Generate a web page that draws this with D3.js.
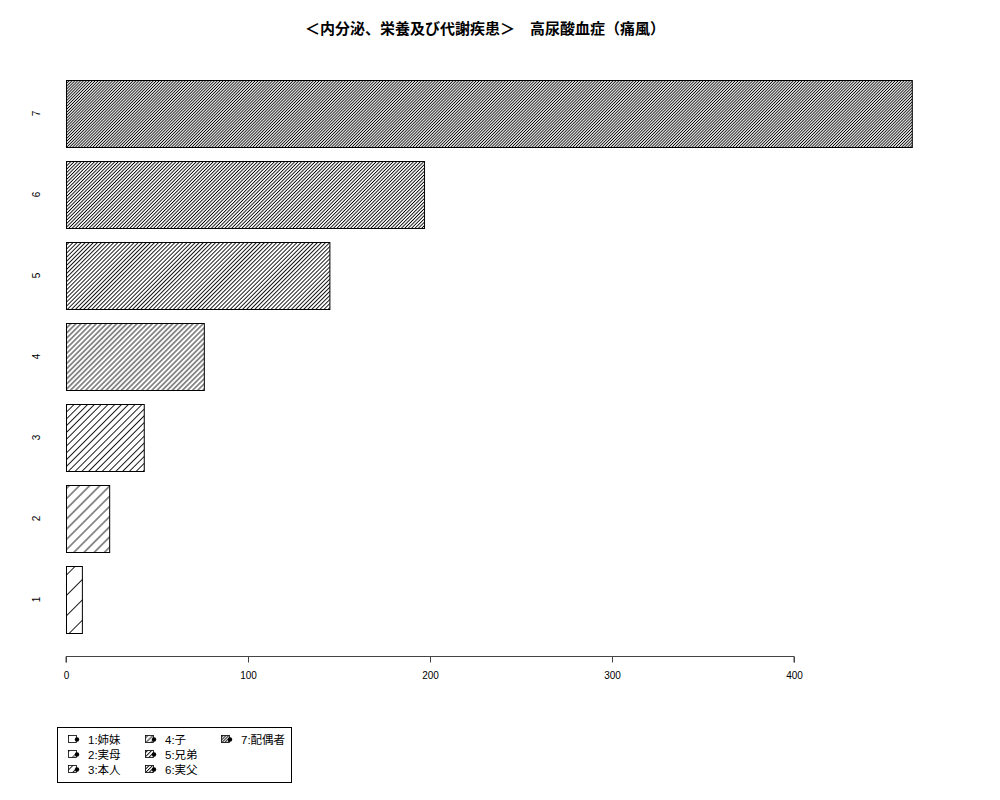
<!DOCTYPE html>
<html><head><meta charset="utf-8">
<script src="https://cdn.jsdelivr.net/npm/d3@7"></script>
<style>body{margin:0;background:#fff}svg{display:block}text{font-family:"Liberation Sans","Noto Sans CJK JP",sans-serif}</style>
</head><body>
<script>
const title = "＜内分泌、栄養及び代謝疾患＞　高尿酸血症（痛風）";
const categories = ["1","2","3","4","5","6","7"];
const values = [9, 24, 43, 76, 145, 197, 465];
const densities = [5, 10, 15, 20, 25, 30, 35];
const legendLabels = ["1:姉妹","2:実母","3:本人","4:子","5:兄弟","6:実父","7:配偶者"];
const xTicks = [0, 100, 200, 300, 400];

const W = 1000, H = 800;
const svg = d3.select("body").append("svg").attr("width", W).attr("height", H);
const defs = svg.append("defs");
densities.forEach((d, i) => {
  const sp = 72 / d;
  const p = defs.append("pattern").attr("id", "h" + i)
    .attr("patternUnits", "userSpaceOnUse").attr("width", sp).attr("height", 10)
    .attr("patternTransform", "rotate(45)");
  p.append("line").attr("x1", sp / 2).attr("x2", sp / 2).attr("y1", 0).attr("y2", 10)
    .attr("stroke", "#000").attr("stroke-width", 0.9);
});

const x = d3.scaleLinear().domain([0, 400]).range([66, 794]);
const y = d3.scaleBand().domain(categories.slice().reverse()).range([80, 633])
  .paddingInner(14 / 81).paddingOuter(0);

svg.append("text").attr("x", 485).attr("y", 34).attr("text-anchor", "middle")
  .attr("font-size", 15).attr("font-weight", "bold")
  .attr("font-family", "'Noto Sans CJK JP',sans-serif").text(title);

const bars = svg.append("g");
categories.forEach((c, i) => {
  const yy = Math.round(y(c)) + 0.5, bw = y.bandwidth();
  const x0 = Math.round(x(0)) + 0.5, x1 = x(values[i]);
  bars.append("rect").attr("x", x0).attr("y", yy).attr("width", x1 - x0).attr("height", bw)
    .attr("fill", "#fff");
  bars.append("rect").attr("x", x0).attr("y", yy).attr("width", x1 - x0).attr("height", bw)
    .attr("fill", `url(#h${i})`).attr("stroke", "#000").attr("stroke-width", 1);
  svg.append("text")
    .attr("transform", `translate(40,${y(c) + bw / 2}) rotate(-90)`)
    .attr("text-anchor", "middle").attr("font-size", 10).text(c);
});

const ax = svg.append("g").attr("transform", "translate(0,656.5)")
  .call(d3.axisBottom(x).tickValues(xTicks).tickSize(6).tickPadding(9).tickFormat(d3.format("d")));
ax.select(".domain").attr("stroke", "#444").attr("d", `M${x(0)},6V0H${x(400)}V6`);
ax.selectAll(".tick line").attr("stroke", "#444");
ax.selectAll(".tick text").attr("font-size", 10).attr("font-family", "'Liberation Sans',sans-serif");

// legend
const lg = svg.append("g");
lg.append("rect").attr("x", 57.5).attr("y", 727.5).attr("width", 234).attr("height", 55)
  .attr("fill", "#fff").attr("stroke", "#000");
legendLabels.forEach((t, i) => {
  const col = Math.floor(i / 3), row = i % 3;
  const cx = [68, 145, 221][col], cy = 739 + row * 15;
  lg.append("rect").attr("x", cx + 0.5).attr("y", cy - 3.5).attr("width", 8).attr("height", 7)
    .attr("fill", `url(#h${i})`).attr("stroke", "#000").attr("stroke-width", 0.8);
  lg.append("circle").attr("cx", cx + 9).attr("cy", cy + 0.5).attr("r", 2.2).attr("fill", "#000");
  lg.append("text").attr("x", cx + 20).attr("y", cy + 4.5).attr("font-size", 11.5)
    .attr("font-family", "'Noto Sans CJK JP',sans-serif").text(t);
});
</script>
</body></html>
